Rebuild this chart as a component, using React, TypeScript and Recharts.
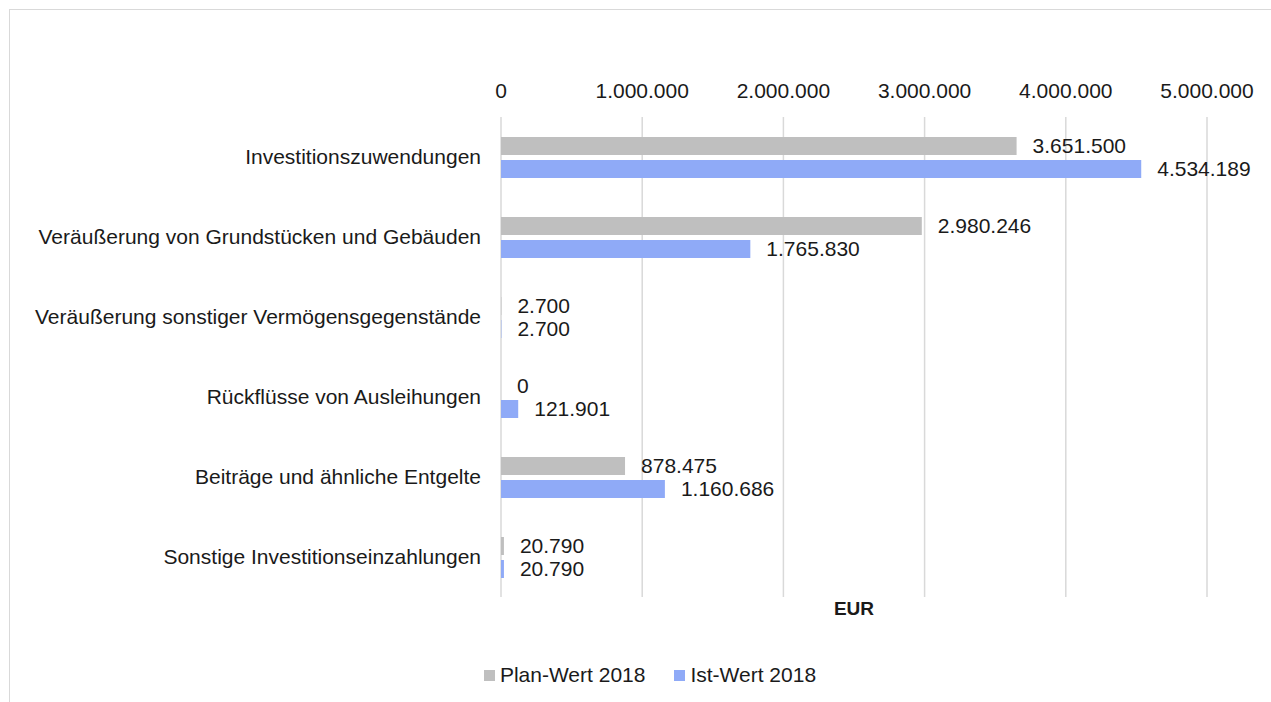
import React from 'react';
import { BarChart, Bar, XAxis, YAxis, CartesianGrid, LabelList } from 'recharts';

const categories = [
  'Investitionszuwendungen',
  'Veräußerung von Grundstücken und Gebäuden',
  'Veräußerung sonstiger Vermögensgegenstände',
  'Rückflüsse von Ausleihungen',
  'Beiträge und ähnliche Entgelte',
  'Sonstige Investitionseinzahlungen',
];
const planValues = [3651500, 2980246, 2700, 0, 878475, 20790];
const istValues = [4534189, 1765830, 2700, 121901, 1160686, 20790];
const xTicks = [0, 1000000, 2000000, 3000000, 4000000, 5000000];

const PLAN_COLOR = '#bfbfbf';
const IST_COLOR = '#8faaf7';
const FONT = '"Liberation Sans", Arial, sans-serif';
const TEXT = '#1a1a1a';

// german thousands separator
const fmt = (v: any) => String(Math.round(Number(v) || 0)).replace(/\B(?=(\d{3})+(?!\d))/g, '.');

const data = categories.map((name, i) => ({ name, plan: planValues[i], ist: istValues[i] }));

export default function App() {
  return (
    <div style={{ position: 'absolute', left: 0, top: 0, width: 1271, height: 702, overflow: 'hidden', background: '#fff', fontFamily: FONT }}>
      <div style={{ position: 'absolute', left: 9, top: 9, width: 1400, height: 900, border: '1px solid #d9d9d9' }} />
      <div style={{ position: 'absolute', left: 0, top: 0 }}>
        <BarChart
          width={1271}
          height={702}
          data={data}
          layout="vertical"
          margin={{ top: 87, right: 64, bottom: 105, left: 0 }}
          barSize={18}
          barGap={5}
        >
          <CartesianGrid horizontal={false} stroke="#d9d9d9" strokeWidth={1.5} />
          <XAxis
            type="number"
            orientation="top"
            height={30}
            domain={[0, 5000000]}
            ticks={xTicks}
            tickFormatter={fmt}
            axisLine={false}
            tickLine={false}
            tickMargin={13}
            tick={{ fill: TEXT, fontSize: 21, fontFamily: FONT }}
            interval={0}
          />
          <YAxis
            type="category"
            dataKey="name"
            width={501}
            axisLine={false}
            tickLine={false}
            tickMargin={14}
            tick={{ fill: TEXT, fontSize: 21, fontFamily: FONT }}
            interval={0}
          />
          <Bar dataKey="plan" name="Plan-Wert 2018" fill={PLAN_COLOR} minPointSize={0.01} isAnimationActive={false}>
            <LabelList dataKey="plan" position="right" offset={16} formatter={fmt} fill={TEXT} fontSize={21} fontFamily={FONT} />
          </Bar>
          <Bar dataKey="ist" name="Ist-Wert 2018" fill={IST_COLOR} minPointSize={0.01} isAnimationActive={false}>
            <LabelList dataKey="ist" position="right" offset={16} formatter={fmt} fill={TEXT} fontSize={21} fontFamily={FONT} />
          </Bar>
        </BarChart>
      </div>
      <div style={{ position: 'absolute', left: 754, width: 200, top: 598, textAlign: 'center', fontWeight: 'bold', fontSize: 19, color: TEXT }}>
        EUR
      </div>
      <div style={{ position: 'absolute', left: 0, width: 1300, top: 663, display: 'flex', justifyContent: 'center', alignItems: 'center', fontSize: 21, color: TEXT }}>
        <span style={{ display: 'inline-block', width: 11, height: 11, background: PLAN_COLOR, marginRight: 5 }} />
        <span style={{ marginRight: 29 }}>Plan-Wert 2018</span>
        <span style={{ display: 'inline-block', width: 11, height: 11, background: IST_COLOR, marginRight: 5 }} />
        <span>Ist-Wert 2018</span>
      </div>
    </div>
  );
}
